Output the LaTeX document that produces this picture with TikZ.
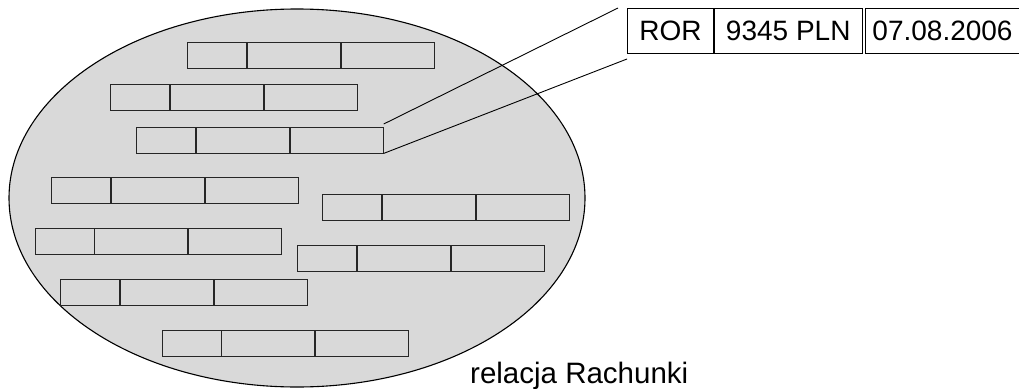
\documentclass[tikz,border=0pt]{standalone}
\usepackage{fontspec}
\setmainfont{Liberation Sans}
\begin{document}
\begin{tikzpicture}[x=1pt,y=-1pt,
  cellbox/.style={draw=black!85, line width=0.9pt, inner sep=0pt,
    minimum height=25.5pt, anchor=north west},
  keycell/.style={cellbox, minimum width=59pt},
  valcell/.style={cellbox, minimum width=93pt},
  bigcell/.style={draw=black, line width=1pt, inner sep=0pt,
    minimum height=45pt, anchor=north west,
    font=\fontsize{28}{32}\selectfont},
  link/.style={draw=black, line width=0.9pt},
  setfill/.style={fill=black!15, draw=black, line width=1.1pt}]
\useasboundingbox (0,0) rectangle (1019,388);

% the relation as a set of tuples
\draw[setfill] (297,198) ellipse [x radius=288, y radius=189];

% one tuple: a key cell followed by two value cells
\newcommand\tuplebox[3]{%
  \node[keycell] (#1a) at (#2,#3) {};
  \node[valcell] (#1b) at (#1a.north east) {};
  \node[valcell] (#1c) at (#1b.north east) {};}

\tuplebox{r1}{187}{42}
\tuplebox{r2}{110}{84}
\tuplebox{r3}{136}{127}
\tuplebox{r4}{51}{177}
\tuplebox{r5}{322}{194}
\tuplebox{r6}{34.5}{228}
\tuplebox{r7}{297}{245}
\tuplebox{r8}{60}{279}
\tuplebox{r9}{161.5}{330}

% enlarged tuple
\node[bigcell, minimum width=86pt] (ror) at (627,8) {ROR};
\node[bigcell, minimum width=147.5pt] (amount) at (ror.north east) {9345 PLN};
\node[bigcell, minimum width=154pt] (date) at ([xshift=2.5pt]amount.north east) {07.08.2006};

% zoom lines from the tuple to its enlarged copy
\coordinate (upperend) at (618,8);
\coordinate (lowerend) at (627,59);
\draw[link] ([yshift=3pt]r3c.north east) -- (upperend);
\draw[link] (r3c.south east) -- (lowerend);

\node[anchor=base west, inner sep=0pt, font=\fontsize{29.5}{33}\selectfont]
  (caption) at (470,383) {relacja Rachunki};
\end{tikzpicture}
\end{document}
